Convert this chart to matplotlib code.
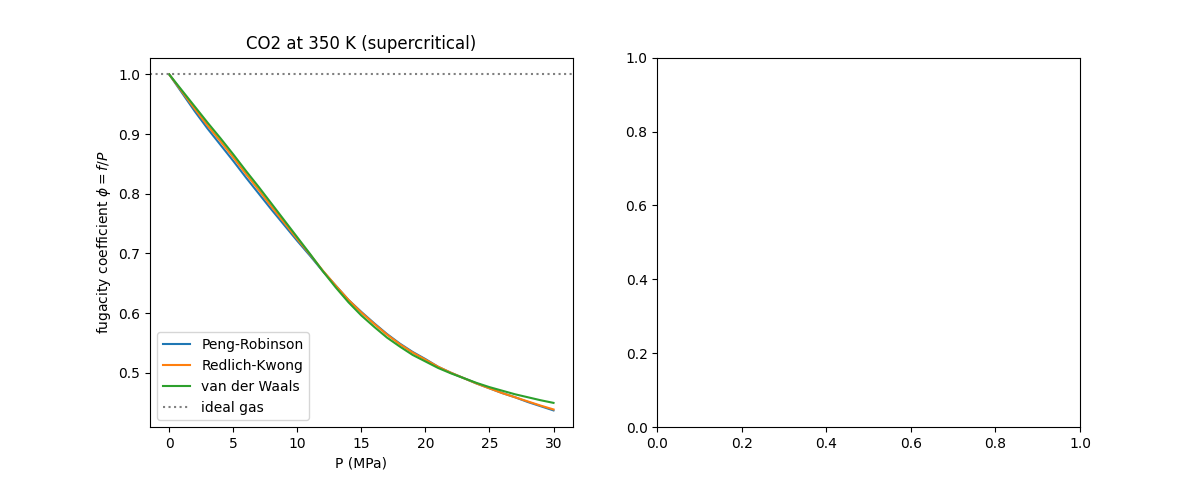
import matplotlib
matplotlib.use("Agg")
import matplotlib.pyplot as plt

P = list(range(0, 31))
phi_pr = [1.000, 0.969, 0.938, 0.909, 0.882, 0.855, 0.827, 0.800, 0.773, 0.747,
          0.721, 0.696, 0.670, 0.646, 0.622, 0.602, 0.583, 0.565, 0.549, 0.535,
          0.523, 0.510, 0.500, 0.491, 0.482, 0.474, 0.466, 0.459, 0.451, 0.444,
          0.437]
phi_rk = [1.000, 0.971, 0.942, 0.914, 0.888, 0.861, 0.833, 0.806, 0.778, 0.751,
          0.724, 0.698, 0.671, 0.646, 0.622, 0.601, 0.582, 0.564, 0.548, 0.534,
          0.522, 0.510, 0.500, 0.491, 0.482, 0.474, 0.466, 0.459, 0.452, 0.445,
          0.4386]
phi_vdw = [1.000, 0.973, 0.946, 0.919, 0.893, 0.866, 0.838, 0.811, 0.783, 0.755,
           0.727, 0.699, 0.670, 0.643, 0.618, 0.596, 0.577, 0.559, 0.544, 0.530,
           0.519, 0.508, 0.499, 0.491, 0.483, 0.476, 0.470, 0.464, 0.459, 0.454,
           0.4496]

fig, (ax1, ax2) = plt.subplots(1, 2, figsize=(12, 4.8), dpi=100)
ax1.plot(P, phi_pr, label="Peng-Robinson")
ax1.plot(P, phi_rk, label="Redlich-Kwong")
ax1.plot(P, phi_vdw, label="van der Waals")
ax1.axhline(1.0, color="gray", ls=":", label="ideal gas")
ax1.set_xlabel("P (MPa)")
ax1.set_ylabel(r"fugacity coefficient $\phi = f/P$")
ax1.set_title("CO2 at 350 K (supercritical)")
ax1.legend(loc="lower left")
fig.savefig("out.png")
